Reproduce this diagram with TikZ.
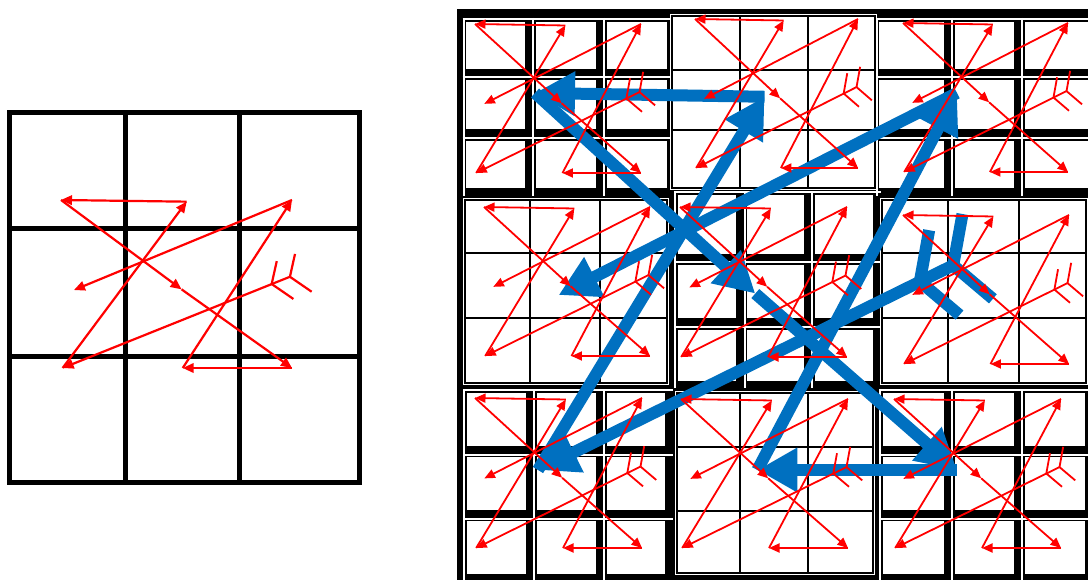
\documentclass[tikz,border=0pt]{standalone}
\usetikzlibrary{arrows.meta}
\definecolor{myred}{RGB}{255,0,0}
\definecolor{myblue}{RGB}{0,112,192}
\tikzset{
  gridline/.style={black, line width=5pt},
  whiteline/.style={white, line width=2pt},
  thinline/.style={black, line width=1.7pt},
  redline/.style={myred, line width=1.8pt},
  redarrow/.style={redline, -{Triangle[length=10.5pt,width=9pt]}},
  lredline/.style={myred, line width=2.2pt},
  lredarrow/.style={lredline, -{Triangle[length=11pt,width=9.5pt]}},
  blueline/.style={myblue, line width=12pt},
  bluearrow/.style={blueline, -{Triangle[length=40pt,width=42pt]}},
}
% thick block: X0..X3, Y0..Y3
\newcommand\thickblock[8]{%
  \foreach \xa/\xb in {#1/#2,#2/#3,#3/#4}{%
    \foreach \ya/\yb in {#5/#6,#6/#7,#7/#8}{%
      \fill[white] (\xa+3.7,\ya+3.7) rectangle (\xb-7.5,\yb-7.5);
    }%
  }%
  \foreach \xx in {#1,#2,#3}{\draw[whiteline] (\xx+1,#5) -- (\xx+1,#8);}%
  \foreach \yy in {#5,#6,#7}{\draw[whiteline] (#1,\yy+1) -- (#4,\yy+1);}%
}
% thin block: x0 x1 xa xb y0 y1 ya yb
\newcommand\thinblock[8]{%
  \fill[white] (#1-2.2,#5-2.2) rectangle (#2+2.2,#6+2.2);
  \draw[thinline] (#1,#5) rectangle (#2,#6);
  \draw[thinline] (#3,#5) -- (#3,#6) (#4,#5) -- (#4,#6)
                  (#1,#7) -- (#2,#7) (#1,#8) -- (#2,#8);
}
% pattern: L R T B style-prefix
\newcommand\zpattern[5]{%
  \pgfmathsetmacro\zpw{#2-#1}%
  \pgfmathsetmacro\zph{#4-#3}%
  \begin{scope}[shift={(#1,#3)}, x={(\zpw pt,0pt)}, y={(0pt,-\zph pt)}]
    \coordinate (p1) at (0,0);
    \coordinate (p2) at (0.544,0.01);
    \coordinate (p3) at (1,0);
    \coordinate (p4) at (0.056,0.536);
    \coordinate (p5) at (0.522,0.532);
    \coordinate (p6) at (0.991,0.457);
    \coordinate (p7) at (0.007,1);
    \coordinate (p8) at (0.527,1);
    \coordinate (p9) at (1,1);
    \coordinate (c1u) at (1.013,0.321);
    \coordinate (c1d) at (1.085,0.546);
    \coordinate (c2) at (0.912,0.500);
    \coordinate (c2u) at (0.934,0.364);
    \coordinate (c2d) at (1.006,0.589);
    \draw[#5line] (p6) -- (c1u);
    \draw[#5line] (p6) -- (c1d);
    \draw[#5line] (c2) -- (c2u);
    \draw[#5line] (c2) -- (c2d);
    \draw[#5arrow] (p6) -- (p7);
    \draw[#5arrow] (p7) -- (p2);
    \draw[#5arrow] (p2) -- (p1);
    \draw[#5arrow] (p1) -- (p5);
    \draw[#5arrow] (p5) -- (p9);
    \draw[#5arrow] (p9) -- (p8);
    \draw[#5arrow] (p8) -- (p3);
    \draw[#5arrow] (p3) -- (p4);
  \end{scope}
}
\begin{document}
\begin{tikzpicture}[x=1pt,y=-1pt]
\useasboundingbox (0,0) rectangle (1088,580);
\clip (0,0) rectangle (1088,580);
% left grid
\draw[gridline] (9.2,112.5) rectangle (359,482.5);
\draw[gridline] (125,112.5) -- (125,482.5) (239,112.5) -- (239,482.5)
                (9.2,229) -- (359,229) (9.2,356.7) -- (359,356.7);
\zpattern{61}{292}{200}{368}{lred}
% right frame
\fill[black] (457,9) rectangle (1088,580);
\thickblock{462.5}{532.3}{603}{674.5}{18}{76.5}{137}{196}
\thickblock{875.5}{951.3}{1021.3}{1095}{18}{76.5}{137}{196}
\thickblock{674}{743.5}{811.3}{880.5}{191.5}{261.3}{326}{388}
\thickblock{463.3}{533.3}{603.3}{672.5}{389.3}{453.5}{517.5}{581}
\thickblock{879.3}{951.3}{1021.3}{1092.5}{389.3}{453.5}{517.5}{581}
\thinblock{672}{875}{740}{808}{16}{188}{70}{130}
\thinblock{465}{667}{530}{600}{200}{383}{253}{318}
\thinblock{882}{1086}{948}{1019}{200}{383}{253}{318}
\thinblock{677}{873}{740}{808}{393}{573}{447}{511}
% blue macro pattern
\zpattern{535}{957}{93}{470}{blue}
% red block patterns
\zpattern{475}{641}{24}{173}{red}
\zpattern{695}{858}{19}{168}{red}
\zpattern{903}{1068}{23}{172}{red}
\zpattern{484}{650}{207}{356}{red}
\zpattern{680}{847}{207}{357}{red}
\zpattern{903}{1069}{215}{364}{red}
\zpattern{475}{642}{398}{548}{red}
\zpattern{681}{848}{399}{548}{red}
\zpattern{894}{1061}{399}{548}{red}
\end{tikzpicture}
\end{document}
